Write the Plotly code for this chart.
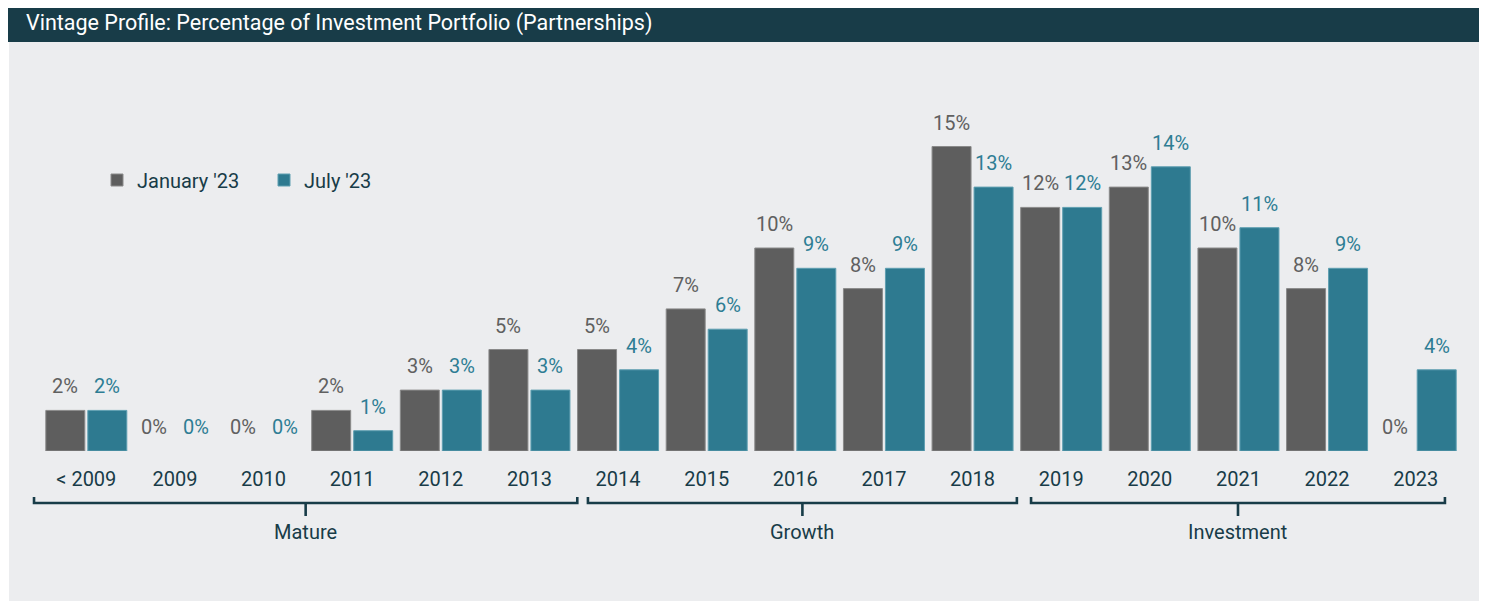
import plotly.graph_objects as go

# ---- data ----
categories = ["< 2009", "2009", "2010", "2011", "2012", "2013", "2014", "2015",
              "2016", "2017", "2018", "2019", "2020", "2021", "2022", "2023"]
jan_23 = [2, 0, 0, 2, 3, 5, 5, 7, 10, 8, 15, 12, 13, 10, 8, 0]
jul_23 = [2, 0, 0, 1, 3, 3, 4, 6, 9, 9, 13, 12, 14, 11, 9, 4]
series_names = ["January '23", "July '23"]
stage_names = ["Mature", "Growth", "Investment"]

# ---- style / layout constants ----
OFF = 8                       # page body margin of the html page
W, H = 1487 - OFF, 601 - OFF
ML, MR, MT = 42 - OFF, 27, 100 - OFF
MB = H - MT - 351
PW, PH = W - ML - MR, H - MT - MB
FONT = "Roboto"
GRAY, TEAL = "#5e5e5e", "#2e7a90"
GRAY_TXT, TEAL_TXT = "#606060", "#2e7d94"
DARK = "#183c48"
BG = "#ecedef"
BAR_W, BAR_GAP = 0.44, 0.034
# bracket extents in category units (decoration layout)
BRACKET_EDGES = [(-0.59, 5.54), (5.66, 10.50), (10.66, 15.33)]

x_idx = list(range(len(categories)))
XMIN, XMAX = -0.5, len(categories) - 0.5
YMAX = PH / 20.3


def px_x(px):  # page px -> paper
    return (px - OFF - ML) / PW


def px_y(py):  # page px -> paper
    return (H - MB - (py - OFF)) / PH


def data_x_to_paper(v):
    return (v - XMIN) / (XMAX - XMIN)


fig = go.Figure()
fig.add_bar(x=x_idx, y=jan_23, name=series_names[0], width=BAR_W,
            offset=-BAR_W - BAR_GAP / 2,
            marker=dict(color=GRAY, line=dict(color="#8a8a8a",
                                              width=[1 if v > 0 else 0 for v in jan_23])))
fig.add_bar(x=x_idx, y=jul_23, name=series_names[1], width=BAR_W,
            offset=BAR_GAP / 2,
            marker=dict(color=TEAL, line=dict(color="#5f9fb1",
                                              width=[1 if v > 0 else 0 for v in jul_23])))

annotations = []
shift = BAR_W / 2 + BAR_GAP / 2
for i, (a, b) in enumerate(zip(jan_23, jul_23)):
    annotations.append(dict(x=i - shift, y=a, text=f"{a}%", showarrow=False,
                            xref="x", yref="y", xanchor="center", yanchor="middle", yshift=24,
                            font=dict(family=FONT, size=20, color=GRAY_TXT)))
    annotations.append(dict(x=i + shift, y=b, text=f"{b}%", showarrow=False,
                            xref="x", yref="y", xanchor="center", yanchor="middle", yshift=24,
                            font=dict(family=FONT, size=20, color=TEAL_TXT)))

shapes = [
    # gray panel
    dict(type="rect", xref="paper", yref="paper", x0=px_x(9), x1=px_x(1500),
         y0=px_y(620), y1=px_y(42), fillcolor=BG, line=dict(width=0), layer="below"),
    # title bar
    dict(type="rect", xref="paper", yref="paper", x0=px_x(8), x1=px_x(1500),
         y0=px_y(42), y1=px_y(-20), fillcolor=DARK, line=dict(width=0), layer="below"),
]

y_line, y_end, y_mid = px_y(503), px_y(497), px_y(516)
for name, (l, r) in zip(stage_names, BRACKET_EDGES):
    xl, xr = data_x_to_paper(l), data_x_to_paper(r)
    xc = (xl + xr) / 2
    path = (f"M{xl},{y_end} L{xl},{y_line} L{xr},{y_line} L{xr},{y_end} "
            f"M{xc},{y_line} L{xc},{y_mid}")
    shapes.append(dict(type="path", xref="paper", yref="paper", path=path,
                       line=dict(color=DARK, width=2.6)))
    annotations.append(dict(x=xc, y=px_y(532), xref="paper", yref="paper",
                            text=name, showarrow=False, xanchor="center", yanchor="middle",
                            font=dict(family=FONT, size=20, color=DARK)))

annotations.append(dict(x=px_x(24), y=px_y(23), xref="paper", yref="paper",
                        xanchor="left", yanchor="middle", showarrow=False,
                        text="Vintage Profile: Percentage of Investment Portfolio (Partnerships)",
                        font=dict(family=FONT, size=21.5, color="white")))

fig.update_layout(
    width=W, height=H,
    margin=dict(l=ML, r=MR, t=MT, b=MB, pad=0),
    paper_bgcolor="white", plot_bgcolor=BG,
    barmode="overlay",
    showlegend=True,
    legend=dict(orientation="h", x=px_x(97), y=px_y(180), xanchor="left",
                yanchor="middle", bgcolor="rgba(0,0,0,0)",
                font=dict(family=FONT, size=20, color=DARK),
                itemwidth=30, entrywidth=122, traceorder="normal"),
    xaxis=dict(range=[XMIN, XMAX], tickmode="array", tickvals=x_idx,
               ticktext=categories, showgrid=False, zeroline=False,
               showline=False, ticks="outside", ticklen=10,
               tickcolor="rgba(0,0,0,0)",
               tickfont=dict(family=FONT, size=20, color=DARK)),
    yaxis=dict(range=[0, YMAX], visible=False, showgrid=False, zeroline=False),
    shapes=shapes,
    annotations=annotations,
    font=dict(family=FONT),
)

fig.write_html("out.html")
